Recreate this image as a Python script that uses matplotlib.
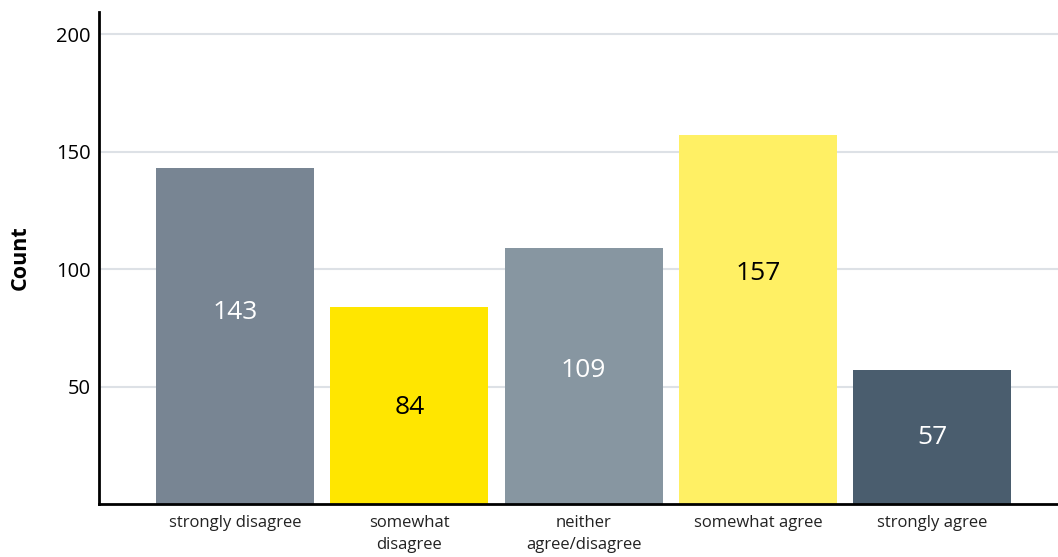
import matplotlib
matplotlib.use("Agg")
import matplotlib.pyplot as plt

categories = ["strongly disagree", "somewhat\ndisagree", "neither\nagree/disagree",
              "somewhat agree", "strongly agree"]
counts = [143, 84, 109, 157, 57]
bar_colors = ["#788593", "#ffe600", "#8796a1", "#fff064", "#4a5d6e"]
label_colors = ["white", "black", "white", "black", "white"]
yticks = [50, 100, 150, 200]

# label vertical placement as a fraction of bar height (layout, not data)
label_frac = [0.57, 0.49, 0.52, 0.625, 0.5]

plt.rcParams['font.family'] = ['Open Sans', 'DejaVu Sans']

fig = plt.figure(figsize=(10.58, 5.57), dpi=100)
ax = fig.add_axes([99/1058, 53/557, 1 - 99/1058, (504-12)/557])

x = list(range(len(categories)))
ax.bar(x, counts, width=0.906, color=bar_colors, zorder=2)
for xi, c, col, f in zip(x, counts, label_colors, label_frac):
    ax.text(xi, c * f, str(c), ha="center", va="center", color=col, fontsize=19, zorder=3)

ax.set_xlim(-0.78, 4.72)
ax.set_ylim(0, 209.4)
ax.set_yticks(yticks)
ax.set_yticklabels([str(v) for v in yticks], fontsize=14.5, color="black")
ax.set_xticks(x)
ax.set_xticklabels(categories, fontsize=12, color="#222222", linespacing=1.5)
ax.tick_params(axis="both", length=0, pad=6)
ax.tick_params(axis="x", pad=8)
ax.grid(axis="y", color="#dde1e6", linewidth=1.5, zorder=0)
ax.set_axisbelow(True)
for s in ["top", "right"]:
    ax.spines[s].set_visible(False)
for s in ["left", "bottom"]:
    ax.spines[s].set_linewidth(2)
    ax.spines[s].set_color("black")
ax.set_ylabel("Count", fontsize=15.5, fontweight="bold", labelpad=18)

fig.savefig("out.png", dpi=100)
